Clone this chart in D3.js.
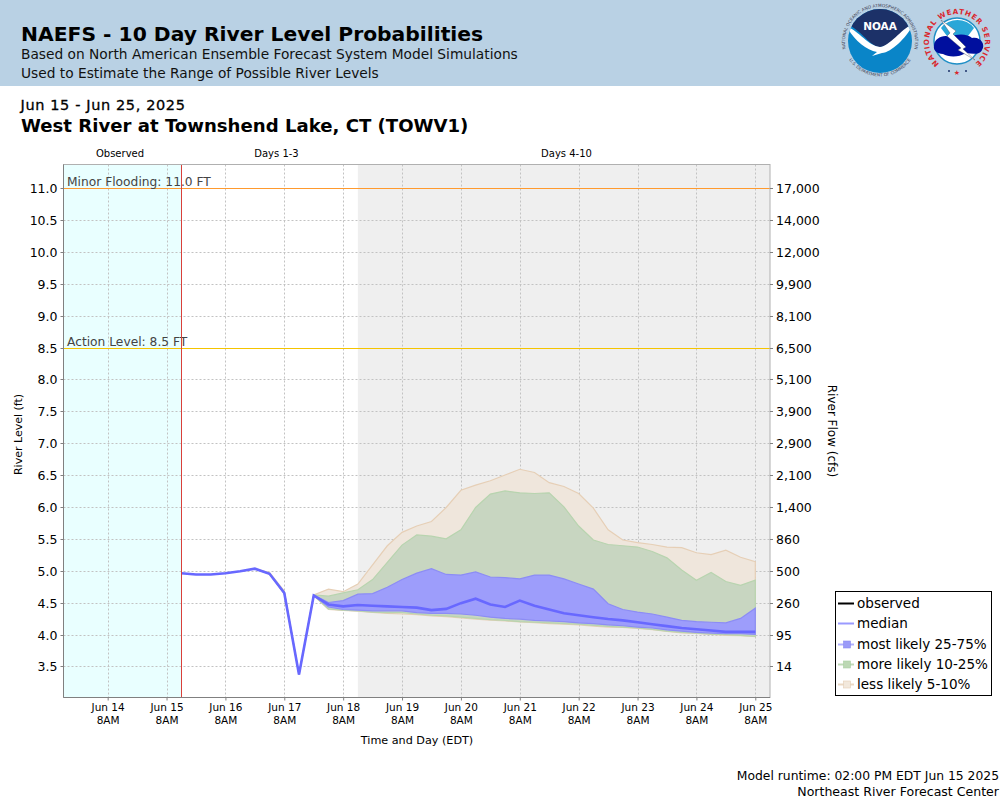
<!DOCTYPE html>
<html><head><meta charset="utf-8">
<script src="https://cdn.jsdelivr.net/npm/d3@7"></script>
<style>html,body{margin:0;padding:0;background:#fff}svg{display:block}text{font-family:"DejaVu Sans",sans-serif}</style>
</head><body><svg id="c" width="1000" height="800"></svg>
<script>
const titleText="NAEFS - 10 Day River Level Probabilities";
const subtitle1="Based on North American Ensemble Forecast System Model Simulations";
const subtitle2="Used to Estimate the Range of Possible River Levels";
const dateRange="Jun 15 - Jun 25, 2025";
const station="West River at Townshend Lake, CT (TOWV1)";
const stageTicks=[11,10.5,10,9.5,9,8.5,8,7.5,7,6.5,6,5.5,5,4.5,4,3.5];
const flowLabels=["17,000","14,000","12,000","9,900","8,100","6,500","5,100","3,900","2,900","2,100","1,400","860","500","260","95","14"];
const dayLabels=["Jun 14","Jun 15","Jun 16","Jun 17","Jun 18","Jun 19","Jun 20","Jun 21","Jun 22","Jun 23","Jun 24","Jun 25"];
const median=[4.97,4.95,4.95,4.97,5.0,5.04,4.96,4.66,3.38,4.62,4.48,4.45,4.47,4.46,4.45,4.44,4.43,4.39,4.41,4.5,4.57,4.48,4.44,4.54,4.46,4.40,4.34,4.31,4.28,4.25,4.23,4.20,4.17,4.14,4.11,4.09,4.07,4.05,4.05,4.05];
const p75=[4.97,4.95,4.95,4.97,5.0,5.04,4.96,4.67,3.38,4.63,4.51,4.54,4.64,4.65,4.75,4.87,4.97,5.04,4.95,4.94,4.99,4.91,4.90,4.88,4.94,4.94,4.88,4.80,4.72,4.49,4.40,4.36,4.33,4.28,4.23,4.21,4.20,4.19,4.26,4.42];
const p25=[4.97,4.95,4.95,4.97,5.0,5.04,4.96,4.66,3.38,4.62,4.44,4.40,4.39,4.38,4.38,4.38,4.35,4.34,4.34,4.33,4.31,4.28,4.26,4.25,4.23,4.22,4.21,4.19,4.18,4.16,4.145,4.125,4.11,4.08,4.06,4.04,4.03,4.02,4.02,4.01];
const p90=[4.97,4.95,4.95,4.97,5.0,5.04,4.97,4.68,3.38,4.63,4.61,4.66,4.71,4.87,5.14,5.41,5.57,5.55,5.51,5.65,6.0,6.21,6.26,6.23,6.22,6.23,6.01,5.71,5.49,5.42,5.40,5.38,5.31,5.21,5.02,4.86,4.98,4.84,4.78,4.86];
const p10=[4.97,4.95,4.95,4.97,5.0,5.04,4.96,4.65,3.38,4.62,4.41,4.39,4.38,4.36,4.35,4.35,4.33,4.31,4.30,4.28,4.26,4.24,4.23,4.21,4.20,4.19,4.18,4.17,4.15,4.135,4.125,4.11,4.09,4.06,4.04,4.03,4.015,4.005,3.995,3.98];
const p95=[4.97,4.95,4.95,4.97,5.0,5.04,4.98,4.69,3.38,4.63,4.72,4.68,4.80,5.10,5.40,5.61,5.71,5.78,6.0,6.27,6.35,6.42,6.51,6.60,6.55,6.39,6.33,6.22,5.99,5.65,5.49,5.45,5.42,5.38,5.37,5.29,5.26,5.33,5.22,5.15];
const p05=[4.97,4.95,4.95,4.97,5.0,5.04,4.96,4.65,3.38,4.62,4.40,4.385,4.375,4.355,4.34,4.33,4.32,4.30,4.29,4.27,4.25,4.235,4.22,4.205,4.195,4.18,4.17,4.16,4.14,4.125,4.12,4.105,4.085,4.055,4.035,4.025,4.01,3.995,3.99,3.975];
const legendItems=[["observed","#000",null,null],["median","#9a9aff",null,null],["most likely 25-75%","#b0b0ff","#9a9af8","#8a8af0"],["more likely 10-25%","#c0dab8","#bcd8b4","#a8cfa0"],["less likely 5-10%","#ebd8c4","#f2e8dc","#e3cdb6"]];

const svg=d3.select("#c");
const L=63.5,R=770,T=164.5,B=697.5;
const t0=Date.UTC(2025,5,15,14);
const times=median.map((_,i)=>new Date(t0+i*6*3600e3));
const x=d3.scaleUtc().domain([new Date(Date.UTC(2025,5,13,14)),new Date(Date.UTC(2025,5,25,14))]).range([L,R]);
const y=d3.scaleLinear().domain([3.02,11.38]).range([B,T]);
const tickDates=dayLabels.map((_,i)=>new Date(Date.UTC(2025,5,14+i,8)));
const rowY=v=>Math.floor(y(v))+.5;

// header
svg.append("rect").attr("width",1000).attr("height",86).attr("fill","#b9d1e4");
svg.append("text").attr("x",21).attr("y",40.5).attr("font-size",20.3).attr("font-weight","bold").attr("fill","#000").text(titleText);
svg.append("text").attr("x",21).attr("y",59).attr("font-size",13.75).attr("fill","#111").text(subtitle1);
svg.append("text").attr("x",21).attr("y",78).attr("font-size",13.75).attr("fill","#111").text(subtitle2);
svg.append("text").attr("x",20.5).attr("y",110).attr("font-size",14.5).attr("fill","#000").attr("stroke","#000").attr("stroke-width",.3).style("letter-spacing","0.62px").text(dateRange);
svg.append("text").attr("x",21).attr("y",131.5).attr("font-size",18.1).attr("font-weight","bold").attr("fill","#000").text(station);

// logos
const defs=svg.append("defs");
defs.append("path").attr("id","noaaTop").attr("d","M 850 60 A 35 35 0 1 1 910 60");
defs.append("path").attr("id","noaaBot").attr("d","M 848 58 A 37 37 0 0 0 912 58");
defs.append("path").attr("id","nwsArc").attr("d","M 941 65 A 28 28 0 1 1 973 65");
defs.append("clipPath").attr("id","noaaClip").append("circle").attr("cx",880).attr("cy",41).attr("r",32);
const noaa=svg.append("g");
noaa.append("circle").attr("cx",880).attr("cy",41).attr("r",32).attr("fill","#0a85c8");
const nc=noaa.append("g").attr("clip-path","url(#noaaClip)");
nc.append("path").attr("d","M 846 8 H 914 V 22 C 905 28 890 47 880 47 C 870 47 860 28 846 24 Z").attr("fill","#1c3168");
nc.append("path").attr("d","M 847 27 C 858 30 868 46 880 47 C 890 46 902 28 913 24 C 908 36 892 52 882 53 L 872 56 L 877 52 C 866 50 854 40 847 27 Z").attr("fill","#fff");
noaa.append("text").attr("x",880).attr("y",30).attr("text-anchor","middle").attr("font-size",10.5).attr("font-weight","bold").attr("fill","#fff").text("NOAA");
noaa.append("text").attr("font-size",4.3).attr("fill","#445").append("textPath").attr("href","#noaaTop").attr("startOffset","50%").attr("text-anchor","middle").text("NATIONAL OCEANIC AND ATMOSPHERIC ADMINISTRATION");
noaa.append("text").attr("font-size",4.3).attr("fill","#445").append("textPath").attr("href","#noaaBot").attr("startOffset","50%").attr("text-anchor","middle").text("U.S. DEPARTMENT OF COMMERCE");
const nws=svg.append("g");
nws.append("circle").attr("cx",957).attr("cy",41).attr("r",23).attr("fill","#fff").attr("stroke","#1f8fc6").attr("stroke-width",1.5);
nws.append("path").attr("d","M 941 28 A 21 21 0 0 1 974 28 L 968 36 L 947 36 Z").attr("fill","#2aa7d8");
nws.append("path").attr("d","M 934 46 C 934 38 944 34 950 37 C 958 33 968 34 972 38 C 980 36 986 44 982 50 C 980 55 972 54 966 53 C 958 58 948 57 943 54 C 937 54 933 50 934 46 Z").attr("fill","#000f9e");
nws.append("path").attr("d","M 941 20 L 956 31 L 953 34 L 966 47 L 963 49 L 975 60 L 958 50 L 961 48 L 947 36 L 950 33 Z").attr("fill","#fff").attr("stroke","#445").attr("stroke-width",.4);
nws.append("text").attr("font-size",7.2).attr("font-weight","bold").attr("fill","#d9272e").append("textPath").attr("href","#nwsArc").attr("startOffset","50%").attr("text-anchor","middle").style("letter-spacing","0.75px").text("NATIONAL WEATHER SERVICE");
nws.append("text").attr("x",957).attr("y",75).attr("text-anchor","middle").attr("font-size",7).attr("fill","#d9272e").text("★");
[949,966].forEach(cx=>nws.append("circle").attr("cx",cx).attr("cy",71).attr("r",1).attr("fill","#1c3168"));

// plot backgrounds
svg.append("rect").attr("x",L).attr("y",T).attr("width",x(times[0])-L).attr("height",B-T).attr("fill","#e9ffff");
svg.append("rect").attr("x",x(times[12])).attr("y",T).attr("width",R-x(times[12])).attr("height",B-T).attr("fill","#efefef");

// grid
const grid=svg.append("g").attr("stroke","#c2c2c2").attr("stroke-width",1).attr("stroke-dasharray","2,2");
grid.selectAll("line.h").data(stageTicks).join("line").attr("class","h").attr("x1",L).attr("x2",R).attr("y1",rowY).attr("y2",rowY);
grid.selectAll("line.v").data(tickDates).join("line").attr("class","v").attr("y1",T).attr("y2",B).attr("x1",d=>Math.round(x(d))+.5).attr("x2",d=>Math.round(x(d))+.5);

// bands
const band=(hi,lo,start)=>d3.area().x((d,i)=>x(times[i])).y0((d,i)=>y(lo[i])).y1((d,i)=>y(hi[i])).defined((d,i)=>i>=start);
function drawBand(hi,lo,fill,stroke){
  svg.append("path").datum(median).attr("d",band(hi,lo,5)).attr("fill",fill).attr("stroke",stroke).attr("stroke-width",1.2);
}
drawBand(p95,p05,"#efe6dc","#e6cfb6");
drawBand(p90,p10,"#c8d6c1","#b8d4af");
drawBand(p75,p25,"#9d9dfb","#8c8cf5");
const line=d3.line().x((d,i)=>x(times[i])).y(d=>y(d));
svg.append("path").datum(median).attr("d",line).attr("fill","none").attr("stroke","#6868ff").attr("stroke-width",2.6);

// threshold lines
[[11,"#ff9a2e","Minor Flooding: 11.0 FT"],[8.5,"#f5c400","Action Level: 8.5 FT"]].forEach(([v,c,t])=>{
  const py=rowY(v);
  svg.append("line").attr("x1",L).attr("x2",R).attr("y1",py).attr("y2",py).attr("stroke",c).attr("stroke-width",1);
  svg.append("text").attr("x",67).attr("y",py-3).attr("font-size",12.25).attr("fill","#444").text(t);
});
svg.append("line").attr("x1",Math.floor(x(times[0]))+.5).attr("x2",Math.floor(x(times[0]))+.5).attr("y1",T).attr("y2",B).attr("stroke","#d9403a").attr("stroke-width",1);

// frame + axes
svg.append("rect").attr("x",L).attr("y",T).attr("width",R-L).attr("height",B-T).attr("fill","none").attr("stroke","#b0b0b0");
svg.append("line").attr("x1",L).attr("x2",L).attr("y1",T).attr("y2",B).attr("stroke","#808080");
svg.append("line").attr("x1",L).attr("x2",R).attr("y1",B).attr("y2",B).attr("stroke","#808080");

const left=d3.axisLeft(y).tickValues(stageTicks).tickFormat(d3.format(".1f")).tickSize(3).tickPadding(3);
const lg=svg.append("g").attr("transform",`translate(${L},0)`).call(left);
lg.select(".domain").remove();
lg.selectAll(".tick").attr("transform",d=>`translate(0,${rowY(d)})`);
lg.selectAll(".tick line").attr("stroke","#808080");
lg.selectAll("text").attr("y",.5).attr("font-size",12.5).attr("fill","#000").style("font-family",'"DejaVu Sans"');
const right=d3.axisRight(y).tickValues(stageTicks).tickFormat((d,i)=>flowLabels[i]).tickSize(3).tickPadding(3);
const rg=svg.append("g").attr("transform",`translate(${R},0)`).call(right);
rg.select(".domain").remove();
rg.selectAll(".tick").attr("transform",d=>`translate(0,${rowY(d)})`);
rg.selectAll("line").attr("stroke","#808080");
rg.selectAll("text").attr("y",.5).attr("font-size",12.5).attr("fill","#000").style("font-family",'"DejaVu Sans"');
const bottom=d3.axisBottom(x).tickValues(tickDates).tickFormat((d,i)=>dayLabels[i]).tickSize(3).tickPadding(3);
const bg=svg.append("g").attr("transform",`translate(0,${B})`).call(bottom);
bg.select(".domain").remove();
bg.selectAll("line").attr("stroke","#808080");
bg.selectAll("text").attr("font-size",10.5).attr("fill","#000").style("font-family",'"DejaVu Sans"');
bg.selectAll(".tick").append("text").attr("y",26).attr("fill","#000").attr("text-anchor","middle").attr("font-size",10.5).style("font-family",'"DejaVu Sans"').text("8AM");

svg.append("text").attr("x",120).attr("y",157).attr("text-anchor","middle").attr("font-size",10).text("Observed");
svg.append("text").attr("x",276.5).attr("y",157).attr("text-anchor","middle").attr("font-size",10).text("Days 1-3");
svg.append("text").attr("x",566.5).attr("y",157).attr("text-anchor","middle").attr("font-size",10).text("Days 4-10");
svg.append("text").attr("transform","translate(22,434.5) rotate(-90)").attr("text-anchor","middle").attr("font-size",11).text("River Level (ft)");
svg.append("text").attr("transform","translate(828,431) rotate(90)").attr("text-anchor","middle").attr("font-size",12).text("River Flow (cfs)");
svg.append("text").attr("x",417).attr("y",744).attr("text-anchor","middle").attr("font-size",11.2).text("Time and Day (EDT)");
svg.append("text").attr("x",999).attr("y",780).attr("text-anchor","end").attr("font-size",12.35).text("Model runtime: 02:00 PM EDT Jun 15 2025");
svg.append("text").attr("x",999).attr("y",796).attr("text-anchor","end").attr("font-size",12.55).text("Northeast River Forecast Center");

// legend
const lgd=svg.append("g");
lgd.append("rect").attr("x",835.5).attr("y",591.5).attr("width",156).attr("height",104).attr("fill","#fff").attr("stroke","#000");
legendItems.forEach(([t,c,m,ms],i)=>{
  const yy=Math.round(603+i*20.25)+.5;
  lgd.append("line").attr("x1",838).attr("x2",854).attr("y1",yy).attr("y2",yy).attr("stroke",c).attr("stroke-width",2);
  if(m) lgd.append("rect").attr("x",843.5).attr("y",yy-3.5).attr("width",7).attr("height",7).attr("fill",m).attr("stroke",ms).attr("stroke-width",.6);
  lgd.append("text").attr("x",857).attr("y",yy+4.5).attr("font-size",13.55).attr("fill","#000").text(t);
});
</script></body></html>
